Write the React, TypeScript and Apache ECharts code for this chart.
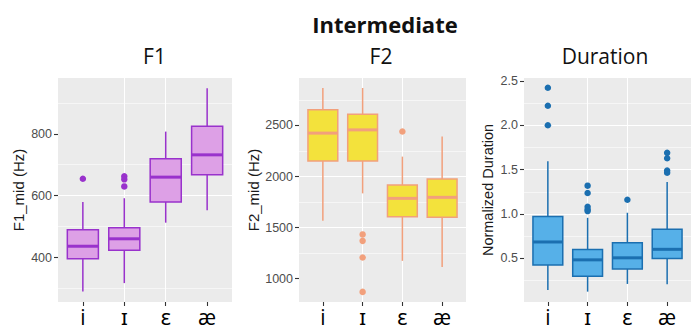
import React, { useEffect, useRef } from 'react';
import * as echarts from 'echarts';

const categories = ['i', 'ɪ', 'ɛ', 'æ'];

// F1 (Hz)
const f1Lower = [291, 318, 513, 553];
const f1Q1 = [397, 424, 580, 668];
const f1Median = [437, 461, 660, 732];
const f1Q3 = [490, 497, 719, 824];
const f1Upper = [580, 592, 807, 947];
const f1Outliers = [[0, 655], [1, 663], [1, 653], [1, 630]];
const f1Ticks = [400, 600, 800];

// F2 (Hz)
const f2Lower = [1567, 1835, 1174, 1115];
const f2Q1 = [2153, 2153, 1606, 1600];
const f2Median = [2425, 2457, 1786, 1796];
const f2Q3 = [2654, 2611, 1917, 1976];
const f2Upper = [2867, 2867, 2195, 2392];
const f2Outliers = [[1, 1433], [1, 1370], [1, 1207], [1, 870], [2, 2441]];
const f2Ticks = [1000, 1500, 2000, 2500];

// Normalized duration
const durLower = [0.141, 0.122, 0.209, 0.205];
const durQ1 = [0.424, 0.296, 0.379, 0.495];
const durMedian = [0.683, 0.481, 0.504, 0.6];
const durQ3 = [0.97, 0.598, 0.673, 0.826];
const durUpper = [1.594, 0.956, 1.013, 1.36];
const durOutliers = [
  [0, 2.425], [0, 2.221], [0, 2.002],
  [1, 1.319], [1, 1.236], [1, 1.08], [1, 1.05], [1, 1.032],
  [2, 1.16],
  [3, 1.69], [3, 1.628], [3, 1.49], [3, 1.465],
];
const durTicks = [0.5, 1.0, 1.5, 2.0, 2.5];

const catPositions = categories.map((_, i) => i);

const SANS = '"Liberation Sans", Arial, sans-serif';
const TITLE_FONT = '"Open Sans", "Noto Sans", sans-serif';
const LABEL_FONT = '"Open Sans", "Noto Sans", "DejaVu Sans", sans-serif';

type Panel = {
  left: number;
  width: number;
  min: number;
  max: number;
  splitNumber: number;
  ticks: number[];
  name: string;
  nameGap: number;
  nameSize: number;
  fmt: (v: number) => string;
  lower: number[];
  q1: number[];
  median: number[];
  q3: number[];
  upper: number[];
  outliers: number[][];
  fill: string;
  stroke: string;
};

const panels: Panel[] = [
  {
    left: 58, width: 174, min: 257, max: 980, splitNumber: 3, ticks: f1Ticks,
    name: 'F1_mid (Hz)', nameGap: 32, nameSize: 15, fmt: (v) => String(v),
    lower: f1Lower, q1: f1Q1, median: f1Median, q3: f1Q3, upper: f1Upper, outliers: f1Outliers,
    fill: '#dda0e6', stroke: '#9932cc',
  },
  {
    left: 299, width: 167, min: 771, max: 2965, splitNumber: 5, ticks: f2Ticks,
    name: 'F2_mid (Hz)', nameGap: 38, nameSize: 15, fmt: (v) => String(v),
    lower: f2Lower, q1: f2Q1, median: f2Median, q3: f2Q3, upper: f2Upper, outliers: f2Outliers,
    fill: '#f3e23c', stroke: '#f2a07c',
  },
  {
    left: 524, width: 175, min: 0.005, max: 2.535, splitNumber: 5, ticks: durTicks,
    name: 'Normalized Duration', nameGap: 29, nameSize: 14.5, fmt: (v) => v.toFixed(1),
    lower: durLower, q1: durQ1, median: durMedian, q3: durQ3, upper: durUpper, outliers: durOutliers,
    fill: '#56b0e8', stroke: '#1b6fb0',
  },
];

export default function App() {
  const ref = useRef<HTMLDivElement>(null);

  useEffect(() => {
    if (!ref.current) return;
    const chart = echarts.init(ref.current, null, { renderer: 'svg' });

    const grid = panels.map((p) => ({
      left: p.left, top: 78, width: p.width, height: 224,
      show: true, backgroundColor: '#ebebeb', borderWidth: 0,
    }));

    const xAxis = panels.map((p, i) => ({
      type: 'value', gridIndex: i, position: 'bottom', min: -0.6, max: 3.6, splitNumber: 4,
      axisLine: { show: false, onZero: false },
      axisTick: { show: true, inside: false, customValues: catPositions, length: 4, lineStyle: { color: '#333', width: 1.1 } },
      axisLabel: {
        show: true, customValues: catPositions,
        formatter: (v: number) => categories[Math.round(v)] ?? '',
        fontSize: 21, color: '#000', fontFamily: LABEL_FONT, margin: 4,
      },
      splitLine: { show: true, showMinLine: false, showMaxLine: false, lineStyle: { color: '#ffffff', width: 1.1 } },
    }));

    const yAxis = panels.map((p, i) => ({
      type: 'value', gridIndex: i, position: 'left', min: p.min, max: p.max, splitNumber: p.splitNumber,
      name: p.name, nameLocation: 'middle', nameGap: p.nameGap,
      nameTextStyle: { fontSize: p.nameSize, color: '#1a1a1a', fontFamily: SANS },
      axisLine: { show: false, onZero: false },
      axisTick: { show: true, inside: false, customValues: p.ticks, length: 4, lineStyle: { color: '#333', width: 1.1 } },
      axisLabel: {
        show: true, customValues: p.ticks, formatter: p.fmt,
        fontSize: 12.5, color: '#4d4d4d', fontFamily: SANS, margin: 6,
      },
      splitLine: { show: true, showMinLine: false, showMaxLine: false, lineStyle: { color: '#ffffff', width: 1.1 } },
      minorTick: { show: false, splitNumber: 2 },
      minorSplitLine: { show: true, lineStyle: { color: '#ffffff', width: 0.55 } },
    }));

    const series: any[] = [];
    panels.forEach((p, i) => {
      series.push({
        type: 'custom',
        xAxisIndex: i, yAxisIndex: i,
        data: categories.map((_, k) => [k, p.lower[k], p.q1[k], p.median[k], p.q3[k], p.upper[k]]),
        encode: { x: 0, y: [1, 2, 3, 4, 5] },
        renderItem: (_params: any, api: any) => {
          const x = api.value(0);
          const pLo = api.coord([x, api.value(1)]);
          const pQ1 = api.coord([x, api.value(2)]);
          const pMed = api.coord([x, api.value(3)]);
          const pQ3 = api.coord([x, api.value(4)]);
          const pHi = api.coord([x, api.value(5)]);
          const w = api.size([0.75, 0])[0];
          const cx = pMed[0];
          const ls = { stroke: p.stroke, lineWidth: 1.5, fill: 'none' };
          return {
            type: 'group',
            children: [
              { type: 'line', shape: { x1: cx, y1: pHi[1], x2: cx, y2: pQ3[1] }, style: ls },
              { type: 'line', shape: { x1: cx, y1: pQ1[1], x2: cx, y2: pLo[1] }, style: ls },
              {
                type: 'rect',
                shape: { x: cx - w / 2, y: pQ3[1], width: w, height: pQ1[1] - pQ3[1] },
                style: { fill: p.fill, stroke: p.stroke, lineWidth: 1.5 },
              },
              {
                type: 'line',
                shape: { x1: cx - w / 2, y1: pMed[1], x2: cx + w / 2, y2: pMed[1] },
                style: { stroke: p.stroke, lineWidth: 3 },
              },
            ],
          };
        },
      });
      series.push({
        type: 'scatter',
        xAxisIndex: i, yAxisIndex: i,
        data: p.outliers,
        symbol: 'circle', symbolSize: 6.5,
        itemStyle: { color: p.stroke, opacity: 1 },
      });
    });

    const titleText = (text: string, x: number, y: number, size: number, bold = false) => ({
      type: 'text', x, y,
      style: {
        text, fontSize: size, fontFamily: TITLE_FONT, fontWeight: bold ? 'bold' : 'normal',
        fill: '#111', textAlign: 'center', textVerticalAlign: 'middle', align: 'center', verticalAlign: 'middle',
      },
    });

    chart.setOption({
      animation: false,
      backgroundColor: '#ffffff',
      grid, xAxis, yAxis, series,
      graphic: [
        titleText('Intermediate', 385, 24, 22, true),
        titleText('F1', 154.5, 56, 21),
        titleText('F2', 381, 56, 21),
        titleText('Duration', 605, 56, 21),
      ],
    });

    return () => chart.dispose();
  }, []);

  return (
    <div
      ref={ref}
      style={{ position: 'absolute', left: 0, top: 0, width: 691, height: 331, background: '#fff' }}
    />
  );
}
